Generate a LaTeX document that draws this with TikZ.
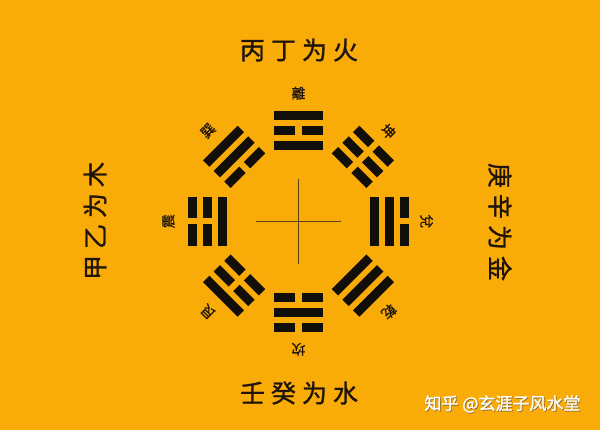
\documentclass[tikz,border=0pt]{standalone}
\usepackage{fontspec}
\usetikzlibrary{calc}
\newfontfamily\cjk[FakeBold=1.2]{Noto Sans CJK SC}
\newfontfamily\cjkwm[FakeBold=1.5]{Noto Sans CJK SC}
\newfontfamily\cjktc[FakeBold=0.5]{Noto Sans CJK TC}
\definecolor{bgc}{RGB}{249,171,7}
\definecolor{barc}{RGB}{18,14,10}
\definecolor{txtc}{RGB}{30,20,10}
\definecolor{crossc}{RGB}{95,65,25}
\newcommand\trigramline[2]{%
  \ifnum#2=1
    \fill[barc] (-24.5,#1-4.5) rectangle (24.5,#1+4.5);
  \else
    \fill[barc] (-24.5,#1-4.5) rectangle (-3.2,#1+4.5);
    \fill[barc] (3.2,#1-4.5) rectangle (24.5,#1+4.5);
  \fi}
\tikzset{
  pics/trigram/.style n args={3}{code={
    \trigramline{-15}{#1}
    \trigramline{0}{#2}
    \trigramline{15}{#3}
  }},
  bigtext/.style={font=\cjk\fontsize{25}{25}\selectfont, text=txtc, inner sep=0pt},
  gualabel/.style={font=\cjktc\fontsize{14}{14}\selectfont, text=txtc, inner sep=0pt},
  crossline/.style={draw=crossc, line width=0.8pt},
  wmtext/.style={font=\cjkwm\fontsize{17}{17}\selectfont, inner sep=0pt},
}
\newcommand\spc{\hspace{6pt}}
\begin{document}
\begin{tikzpicture}[x=1pt,y=1pt]
\fill[bgc] (0,0) rectangle (600,430);
\useasboundingbox (0,0) rectangle (600,430);
\coordinate (C) at (298.5,208.75);
% cross
\coordinate (cl) at ($(C)+(-42.5,-0.5)$);
\coordinate (cr) at ($(C)+(42.5,-0.5)$);
\coordinate (ct) at ($(C)+(0,42.5)$);
\coordinate (cb) at ($(C)+(0,-42.5)$);
\draw[crossline] (cl) -- (cr);
\draw[crossline] (ct) -- (cb);
% trigrams (bottom line innermost)
\pic[rotate=0]    (li)   at ($(C)+(90:91)$)   {trigram={1}{0}{1}};
\pic[rotate=-45]  (kun)  at ($(C)+(45:91)$)   {trigram={0}{0}{0}};
\pic[rotate=-90]  (dui)  at ($(C)+(0:91)$)    {trigram={1}{1}{0}};
\pic[rotate=-135] (qian) at ($(C)+(-45:91)$)  {trigram={1}{1}{1}};
\pic[rotate=180]  (kan)  at ($(C)+(-90:91)$)  {trigram={0}{1}{0}};
\pic[rotate=135]  (gen)  at ($(C)+(-135:91)$) {trigram={0}{0}{1}};
\pic[rotate=90]   (zhen) at ($(C)+(180:91)$)  {trigram={1}{0}{0}};
\pic[rotate=45]   (xun)  at ($(C)+(135:91)$)  {trigram={0}{1}{1}};
% trigram names
\node[gualabel, rotate=0]    (nli)   at ($(C)+(90:128)$)   {離};
\node[gualabel, rotate=-45]  (nkun)  at ($(C)+(45:127)$)   {坤};
\node[gualabel, rotate=-90]  (ndui)  at ($(C)+(0:128)$)    {兌};
\node[gualabel, rotate=-135] (nqian) at ($(C)+(-45:128)$)  {乾};
\node[gualabel, rotate=180]  (nkan)  at ($(C)+(-90:128)$)  {坎};
\node[gualabel, rotate=135]  (ngen)  at ($(C)+(-135:128)$) {艮};
\node[gualabel, rotate=90]   (nzhen) at ($(C)+(180:130)$)  {震};
\node[gualabel, rotate=45]   (nxun)  at ($(C)+(135:128)$)  {巽};
% directions
\node[bigtext] (south) at (299,380) {丙\spc 丁\spc 为\spc 火};
\node[bigtext] (north) at (299,37) {壬\spc 癸\spc 为\spc 水};
\node[bigtext, rotate=90] (east) at (95,209) {甲\spc 乙\spc 为\spc 木};
\node[bigtext, rotate=-90] (west) at (500,208) {庚\spc 辛\spc 为\spc 金};
% watermark
\node[wmtext, text=black!75, opacity=0.5] (wmshadow) at (503.3,25.2) {知乎 @玄涯子风水堂};
\node[wmtext, text=white] (wm) at (502.5,26) {知乎 @玄涯子风水堂};
\end{tikzpicture}
\end{document}
